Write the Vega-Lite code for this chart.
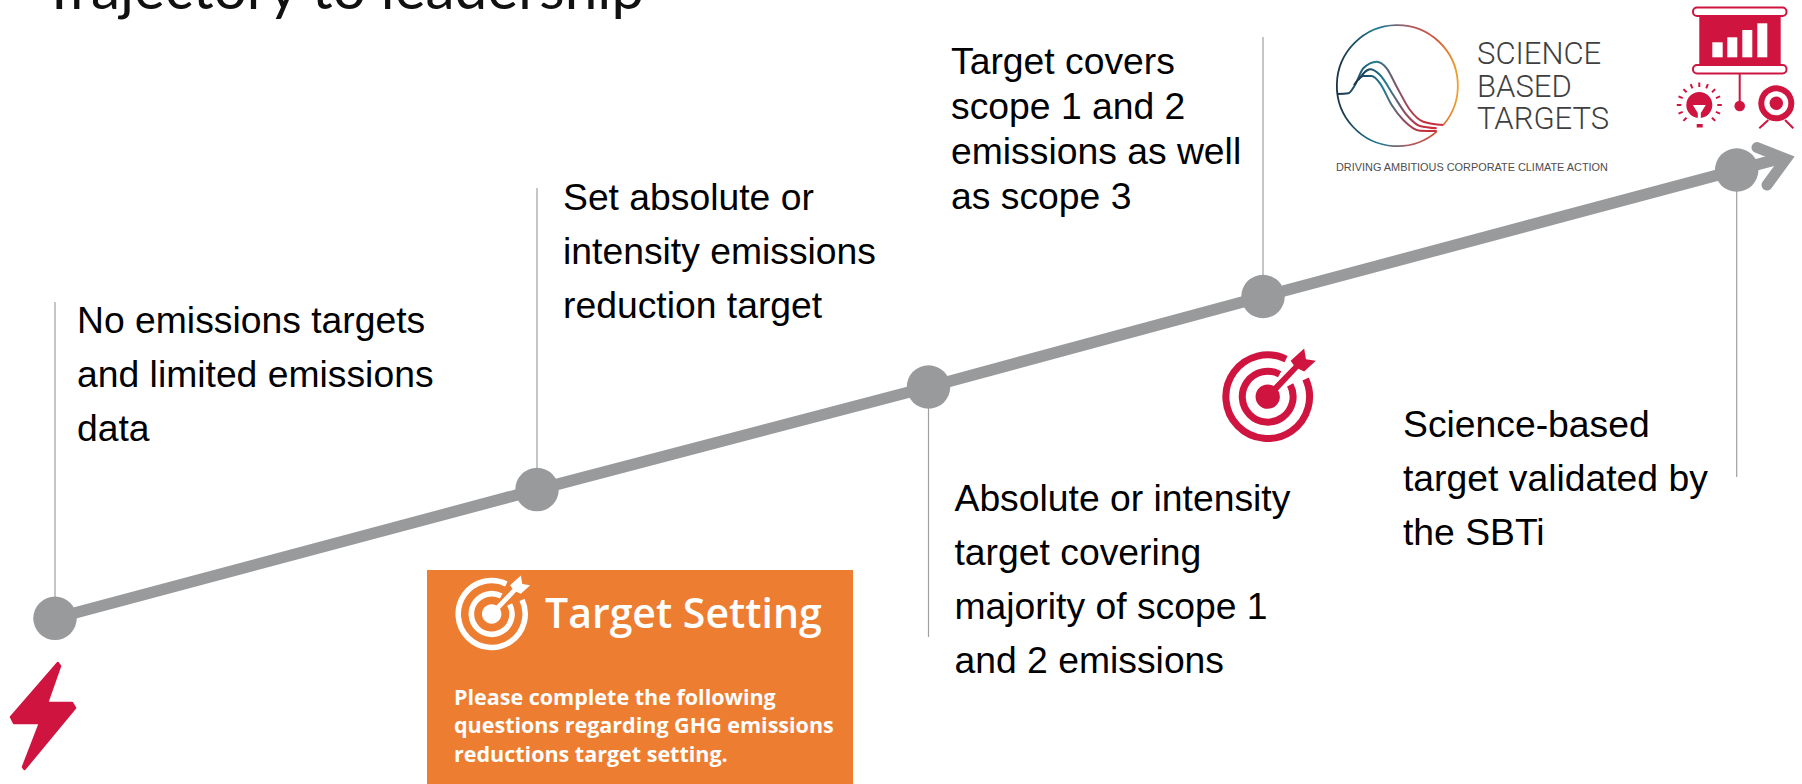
{
  "$schema": "https://vega.github.io/schema/vega-lite/v6.json",
  "width": 1802,
  "height": 784,
  "autosize": {"type": "none"},
  "padding": 0,
  "background": "#ffffff",
  "view": {"stroke": null},
  "datasets": {
    "milestones": [
      {"step": "No targets", "x": 55, "y": 618.3, "ruleEnd": 302},
      {"step": "Set target", "x": 537, "y": 489.6, "ruleEnd": 188},
      {"step": "Majority of scope 1 and 2", "x": 928.5, "y": 387, "ruleEnd": 637},
      {"step": "Scope 3 covered", "x": 1263, "y": 296.5, "ruleEnd": 37},
      {"step": "SBTi validated", "x": 1736.7, "y": 170, "ruleEnd": 477}
    ],
    "arrowTip": [
      {"x": 1736.7, "y": 170, "part": "shaft"},
      {"x": 1782, "y": 158, "part": "shaft"}
    ],
    "arrowHead": [
      {"x": 1757, "y": 147.5},
      {"x": 1786, "y": 159},
      {"x": 1767, "y": 185}
    ],
    "notes": [
      {"text": "No emissions targets", "x": 77, "y": 333},
      {"text": "and limited emissions", "x": 77, "y": 387},
      {"text": "data", "x": 77, "y": 441},
      {"text": "Set absolute or", "x": 563, "y": 210},
      {"text": "intensity emissions", "x": 563, "y": 264},
      {"text": "reduction target", "x": 563, "y": 318},
      {"text": "Target covers", "x": 951, "y": 74},
      {"text": "scope 1 and 2", "x": 951, "y": 119},
      {"text": "emissions as well", "x": 951, "y": 164},
      {"text": "as scope 3", "x": 951, "y": 209},
      {"text": "Absolute or intensity", "x": 954.5, "y": 511},
      {"text": "target covering", "x": 954.5, "y": 565},
      {"text": "majority of scope 1", "x": 954.5, "y": 619},
      {"text": "and 2 emissions", "x": 954.5, "y": 673},
      {"text": "Science-based", "x": 1403, "y": 437},
      {"text": "target validated by", "x": 1403, "y": 491},
      {"text": "the SBTi", "x": 1403, "y": 545}
    ],
    "panel": [
      {"x": 427, "x2": 853, "y": 570, "y2": 784}
    ],
    "panelBody": [
      {"text": "Please complete the following", "x": 454, "y": 705},
      {"text": "questions regarding GHG emissions", "x": 454, "y": 733},
      {"text": "reductions target setting.", "x": 454, "y": 762}
    ],
    "logoWords": [
      {"text": "SCIENCE", "x": 1477, "y": 64},
      {"text": "BASED", "x": 1477, "y": 96.7},
      {"text": "TARGETS", "x": 1477, "y": 129.3}
    ],
    "logoCurves": [
      {"curve": "a", "x": 1337.3, "y": 94},
      {"curve": "a", "x": 1348.3, "y": 93.3},
      {"curve": "a", "x": 1355, "y": 85},
      {"curve": "a", "x": 1363.3, "y": 68.3},
      {"curve": "a", "x": 1376.7, "y": 61.7},
      {"curve": "a", "x": 1386.7, "y": 68.3},
      {"curve": "a", "x": 1396.7, "y": 86.7},
      {"curve": "a", "x": 1410, "y": 110},
      {"curve": "a", "x": 1423.3, "y": 121.7},
      {"curve": "a", "x": 1443.3, "y": 125},
      {"curve": "b", "x": 1358.3, "y": 80},
      {"curve": "b", "x": 1370, "y": 69.3},
      {"curve": "b", "x": 1380, "y": 75},
      {"curve": "b", "x": 1393.3, "y": 95},
      {"curve": "b", "x": 1406.7, "y": 115},
      {"curve": "b", "x": 1420, "y": 126},
      {"curve": "b", "x": 1436.7, "y": 128.3},
      {"curve": "c", "x": 1354, "y": 85},
      {"curve": "c", "x": 1363.3, "y": 76},
      {"curve": "c", "x": 1371.7, "y": 76},
      {"curve": "c", "x": 1380, "y": 83.3},
      {"curve": "c", "x": 1391.7, "y": 105},
      {"curve": "c", "x": 1403.3, "y": 120},
      {"curve": "c", "x": 1420, "y": 130.7},
      {"curve": "c", "x": 1436.7, "y": 131}
    ],
    "boardBars": [
      {"x": 1712.3, "x2": 1722.7, "y": 42.3, "y2": 57.3},
      {"x": 1727.3, "x2": 1737.3, "y": 37.3, "y2": 57.3},
      {"x": 1742.3, "x2": 1752.3, "y": 30, "y2": 57.3},
      {"x": 1757.3, "x2": 1767.3, "y": 23.3, "y2": 57.3}
    ],
    "boardRails": [
      {"x": 1693, "x2": 1786.5, "y": 7.5, "y2": 16},
      {"x": 1693, "x2": 1786.5, "y": 65, "y2": 73.5}
    ],
    "targets": [
      {"icon": "crimson", "x": 1267.7, "y": 396.7},
      {"icon": "white", "x": 491.7, "y": 614}
    ]
  },
  "encoding": {
    "x": {"field": "x", "type": "quantitative", "scale": {"domain": [0, 1802], "nice": false, "zero": false}, "axis": null},
    "y": {"field": "y", "type": "quantitative", "scale": {"domain": [0, 784], "nice": false, "zero": false, "reverse": true}, "axis": null}
  },
  "layer": [
    {
      "data": {"values": [{"text": "Trajectory to leadership", "x": 42, "y": 9}]},
      "mark": {"type": "text", "font": "Lato", "fontSize": 58.5, "align": "left", "baseline": "alphabetic", "color": "#111111"},
      "encoding": {"text": {"field": "text"}}
    },
    {
      "data": {"name": "milestones"},
      "mark": {"type": "rule", "stroke": "#a0a0a0", "strokeWidth": 1.2},
      "encoding": {"y2": {"field": "ruleEnd"}}
    },
    {
      "data": {"name": "milestones"},
      "mark": {"type": "line", "stroke": "#999a9c", "strokeWidth": 11.5},
      "encoding": {"order": {"field": "x", "type": "quantitative"}}
    },
    {
      "data": {"name": "arrowTip"},
      "mark": {"type": "line", "stroke": "#999a9c", "strokeWidth": 11.5},
      "encoding": {"order": {"field": "x", "type": "quantitative"}}
    },
    {
      "data": {"name": "arrowHead"},
      "mark": {"type": "line", "stroke": "#999a9c", "strokeWidth": 11, "strokeCap": "round", "strokeJoin": "miter", "strokeMiterLimit": 8},
      "encoding": {"order": {"field": "y", "type": "quantitative"}}
    },
    {
      "data": {"name": "milestones"},
      "mark": {"type": "point", "shape": "circle", "filled": true, "fill": "#999a9c", "opacity": 1, "size": 1892}
    },
    {
      "data": {"name": "notes"},
      "mark": {"type": "text", "font": "Liberation Sans", "fontSize": 37.3, "align": "left", "baseline": "alphabetic", "color": "#000000"},
      "encoding": {"text": {"field": "text"}}
    },
    {
      "data": {"name": "panel"},
      "mark": {"type": "rect", "fill": "#ed7d31"},
      "encoding": {"x2": {"field": "x2"}, "y2": {"field": "y2"}}
    },
    {
      "data": {"values": [{"text": "Target Setting", "x": 545, "y": 628}]},
      "mark": {"type": "text", "font": "Open Sans", "fontSize": 41, "fontWeight": 600, "align": "left", "baseline": "alphabetic", "color": "#ffffff"},
      "encoding": {"text": {"field": "text"}}
    },
    {
      "data": {"name": "panelBody"},
      "mark": {"type": "text", "font": "Open Sans", "fontSize": 21.5, "fontWeight": 700, "align": "left", "baseline": "alphabetic", "color": "#ffffff"},
      "encoding": {"text": {"field": "text"}}
    },
    {
      "data": {"values": [{"x": 43, "y": 716}]},
      "mark": {
        "type": "point", "filled": true, "opacity": 1, "size": 4,
        "shape": "M 14.8 -53 L 17 -50 L 4 -13 L 29 -13 L 32 -8 L -18.5 53 L -20 51 L -3 7 L -29 7 L -32 1 Z",
        "fill": "#cf1440", "stroke": "#cf1440", "strokeWidth": 2.5, "strokeJoin": "round"
      }
    },
    {
      "data": {"name": "targets"},
      "mark": {
        "type": "point", "filled": false, "opacity": 1,
        "shape": "M 0.843 -0.393 A 0.93 0.93 0 1 1 0.408 -0.836 M 0.499 -0.265 A 0.565 0.565 0 1 1 0.265 -0.499"
      },
      "encoding": {
        "size": {"field": "icon", "type": "ordinal", "scale": {"domain": ["crimson", "white"], "range": [8100, 5184]}, "legend": null},
        "stroke": {"field": "icon", "type": "nominal", "scale": {"domain": ["crimson", "white"], "range": ["#cf1440", "#ffffff"]}, "legend": null},
        "strokeWidth": {"field": "icon", "type": "ordinal", "scale": {"domain": ["crimson", "white"], "range": [7, 5.6]}, "legend": null}
      }
    },
    {
      "data": {"name": "targets"},
      "mark": {
        "type": "point", "filled": true, "opacity": 1,
        "shape": "M -0.27 0 A 0.27 0.27 0 1 1 0.27 0 A 0.27 0.27 0 1 1 -0.27 0 Z M 0.51 -0.8 L 0.81 -1.07 L 0.85 -0.83 L 1.07 -0.8 L 0.81 -0.56 L 0.68 -0.62 L 0.05 0.05 L -0.05 -0.05 L 0.58 -0.7 Z"
      },
      "encoding": {
        "size": {"field": "icon", "type": "ordinal", "scale": {"domain": ["crimson", "white"], "range": [8100, 5184]}, "legend": null},
        "fill": {"field": "icon", "type": "nominal", "scale": {"domain": ["crimson", "white"], "range": ["#cf1440", "#ffffff"]}, "legend": null}
      }
    },
    {
      "data": {"values": [{"x": 1397, "y": 85.3}]},
      "mark": {
        "type": "point", "filled": false, "opacity": 1, "size": 4, "strokeWidth": 1.8,
        "shape": "M 39.7 46.3 A 60.5 60.5 0 1 1 46.3 39.7",
        "stroke": {
          "gradient": "linear", "x1": 0, "y1": 0, "x2": 1, "y2": 0,
          "stops": [
            {"offset": 0, "color": "#1c3247"},
            {"offset": 0.35, "color": "#1f7a93"},
            {"offset": 0.6, "color": "#b05a62"},
            {"offset": 0.8, "color": "#d0503a"},
            {"offset": 1, "color": "#eea32d"}
          ]
        }
      }
    },
    {
      "data": {"name": "logoCurves"},
      "mark": {
        "type": "line", "interpolate": "monotone", "strokeWidth": 2,
        "stroke": {
          "gradient": "linear", "x1": 0, "y1": 0, "x2": 1, "y2": 0,
          "stops": [
            {"offset": 0, "color": "#1c3247"},
            {"offset": 0.35, "color": "#1f7a93"},
            {"offset": 0.6, "color": "#8f4e60"},
            {"offset": 0.8, "color": "#c0323f"},
            {"offset": 1, "color": "#c9303a"}
          ]
        }
      },
      "encoding": {"detail": {"field": "curve"}}
    },
    {
      "data": {"name": "logoWords"},
      "mark": {"type": "text", "font": "Roboto", "fontWeight": 300, "fontSize": 31, "align": "left", "baseline": "alphabetic", "color": "#3f3f41"},
      "encoding": {"text": {"field": "text"}}
    },
    {
      "data": {"values": [{"text": "DRIVING AMBITIOUS CORPORATE CLIMATE ACTION", "x": 1336, "y": 170.7}]},
      "mark": {"type": "text", "font": "Liberation Sans", "fontSize": 10.9, "align": "left", "baseline": "alphabetic", "color": "#4d4d4f"},
      "encoding": {"text": {"field": "text"}}
    },
    {
      "data": {"values": [{"x": 1699.3, "x2": 1780.7, "y": 16, "y2": 65}]},
      "mark": {"type": "rect", "fill": "#cf1440"},
      "encoding": {"x2": {"field": "x2"}, "y2": {"field": "y2"}}
    },
    {
      "data": {"name": "boardRails"},
      "mark": {"type": "rect", "fill": "#ffffff", "stroke": "#cf1440", "strokeWidth": 2, "cornerRadius": 4},
      "encoding": {"x2": {"field": "x2"}, "y2": {"field": "y2"}}
    },
    {
      "data": {"name": "boardBars"},
      "mark": {"type": "rect", "fill": "#ffffff"},
      "encoding": {"x2": {"field": "x2"}, "y2": {"field": "y2"}}
    },
    {
      "data": {"values": [{"x": 1739.7, "y": 74, "y2": 106}]},
      "mark": {"type": "rule", "stroke": "#cf1440", "strokeWidth": 2},
      "encoding": {"y2": {"field": "y2"}}
    },
    {
      "data": {"values": [{"x": 1739.7, "y": 106}]},
      "mark": {"type": "point", "shape": "circle", "filled": true, "fill": "#cf1440", "opacity": 1, "size": 112}
    },
    {
      "data": {"values": [{"x": 1699.3, "y": 105}]},
      "mark": {
        "type": "point", "filled": false, "opacity": 1, "size": 4, "stroke": "#cf1440", "strokeWidth": 2,
        "shape": "M 0 -18 L 0 -22.5 M 6.9 -16.6 L 8.6 -20.8 M 12.7 -12.7 L 15.9 -15.9 M 16.6 -6.9 L 20.8 -8.6 M 18 0 L 22.5 0 M 16.6 6.9 L 20.8 8.6 M 12.7 12.7 L 15.9 15.9 M -6.9 -16.6 L -8.6 -20.8 M -12.7 -12.7 L -15.9 -15.9 M -16.6 -6.9 L -20.8 -8.6 M -18 0 L -22.5 0 M -16.6 6.9 L -20.8 8.6 M -12.7 12.7 L -15.9 15.9"
      }
    },
    {
      "data": {"values": [{"x": 1699.3, "y": 105}]},
      "mark": {"type": "point", "shape": "circle", "filled": true, "fill": "#cf1440", "opacity": 1, "size": 676}
    },
    {
      "data": {"values": [{"x": 1699.3, "y": 105}]},
      "mark": {
        "type": "point", "filled": true, "fill": "#ffffff", "opacity": 1, "size": 4,
        "shape": "M -6.5 0 L 6.5 0 L 1.5 8 L 1.5 15 L -1.5 15 L -1.5 8 Z"
      }
    },
    {
      "data": {"values": [{"x": 1696.7, "x2": 1702.7, "y": 124, "y2": 127.5}]},
      "mark": {"type": "rect", "fill": "#cf1440"},
      "encoding": {"x2": {"field": "x2"}, "y2": {"field": "y2"}}
    },
    {
      "data": {"values": [{"x": 1776.3, "y": 103.3}]},
      "mark": {
        "type": "point", "filled": false, "opacity": 1, "size": 4, "stroke": "#cf1440", "strokeWidth": 2,
        "shape": "M -8 16.7 L -17 25 M 8.7 16.7 L 17 25"
      }
    },
    {
      "data": {"values": [{"x": 1776.3, "y": 103.3}]},
      "mark": {"type": "point", "shape": "circle", "filled": true, "fill": "#cf1440", "opacity": 1, "size": 1296}
    },
    {
      "data": {"values": [{"x": 1776.3, "y": 103.3}]},
      "mark": {"type": "point", "shape": "circle", "filled": true, "fill": "#ffffff", "opacity": 1, "size": 576}
    },
    {
      "data": {"values": [{"x": 1776.3, "y": 103.3}]},
      "mark": {"type": "point", "shape": "circle", "filled": true, "fill": "#cf1440", "opacity": 1, "size": 180}
    }
  ]
}
